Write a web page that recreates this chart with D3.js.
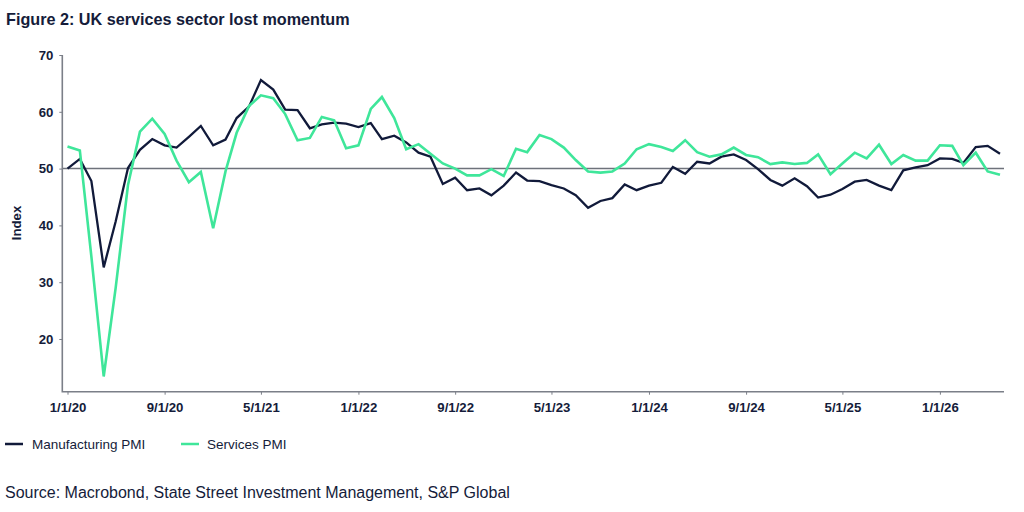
<!DOCTYPE html>
<html>
<head>
<meta charset="utf-8">
<script src="https://cdn.jsdelivr.net/npm/d3@7"></script>
<style>
  html, body { margin: 0; padding: 0; background: #ffffff; }
  svg { display: block; font-family: "Liberation Sans", Arial, sans-serif; }
</style>
</head>
<body>
<svg id="chart" width="1024" height="512"></svg>
<script>
// ---- data ----
const startMonth = "2020-01";
const manufacturingPMI = [
  50.0, 51.7, 47.8, 32.6, 40.7, 50.1, 53.3, 55.2, 54.1, 53.7, 55.6, 57.5,
  54.1, 55.1, 58.9, 60.9, 65.6, 63.9, 60.4, 60.3, 57.1, 57.8, 58.1, 57.9,
  57.3, 58.0, 55.2, 55.8, 54.6, 52.8, 52.1, 47.3, 48.4, 46.2, 46.5, 45.3,
  47.0, 49.3, 47.9, 47.8, 47.1, 46.5, 45.3, 43.1, 44.3, 44.8, 47.2, 46.2,
  47.0, 47.5, 50.3, 49.1, 51.2, 50.9, 52.1, 52.5, 51.5, 49.9, 48.0, 47.0,
  48.3, 46.9, 44.9, 45.4, 46.4, 47.7, 48.0, 47.0, 46.2, 49.7, 50.2, 50.6,
  51.8, 51.7, 51.0, 53.8, 54.0, 52.6
];
const servicesPMI = [
  53.9, 53.2, 34.5, 13.4, 29.0, 47.1, 56.5, 58.8, 56.1, 51.4, 47.6, 49.4,
  39.5, 49.5, 56.3, 61.0, 62.9, 62.4, 59.6, 55.0, 55.4, 59.1, 58.5, 53.6,
  54.1, 60.5, 62.6, 58.9, 53.4, 54.3, 52.6, 50.9, 50.0, 48.8, 48.8, 49.9,
  48.7, 53.5, 52.9, 55.9, 55.2, 53.7, 51.5, 49.5, 49.3, 49.5, 50.9, 53.4,
  54.3, 53.8, 53.1, 55.0, 52.9, 52.1, 52.5, 53.7, 52.4, 52.0, 50.8, 51.1,
  50.8, 51.0, 52.5, 49.0, 50.9, 52.8, 51.8, 54.2, 50.8, 52.4, 51.4, 51.4,
  54.1, 54.0, 50.6, 52.8, 49.5, 48.9
];
const xTickLabels = ["1/1/20", "9/1/20", "5/1/21", "1/1/22", "9/1/22", "5/1/23", "1/1/24", "9/1/24", "5/1/25", "1/1/26"];
const yTickValues = [20, 30, 40, 50, 60, 70];
const seriesNames = ["Manufacturing PMI", "Services PMI"];
const referenceLevel = 50;
const titleText = "Figure 2: UK services sector lost momentum";
const yAxisLabel = "Index";
const sourceText = "Source: Macrobond, State Street Investment Management, S&P Global";

// ---- styling ----
const colors = ["#111a3a", "#3fe69a"];
const axisColor = "#7b7f88";
const textColor = "#151c3a";

const svg = d3.select("#chart");
const parseMonth = d3.timeParse("%Y-%m");
const parseTick = d3.timeParse("%m/%d/%y");
const start = parseMonth(startMonth);
const dates = manufacturingPMI.map((_, i) => d3.timeMonth.offset(start, i));

const x = d3.scaleTime()
  .domain([dates[0], dates[dates.length - 1]])
  .range([67.5, 1000]);
const y = d3.scaleLinear().domain([10.72, 70]).range([391.7, 55]);

const axisLeftX = 62.3, axisRightX = 1004, axisBottomY = 391.7;

// title
svg.append("text")
  .attr("x", 6).attr("y", 25)
  .attr("font-size", 16.2).attr("font-weight", "bold")
  .attr("fill", textColor)
  .text(titleText);

// reference line at 50
svg.append("line")
  .attr("x1", axisLeftX).attr("x2", axisRightX)
  .attr("y1", y(referenceLevel)).attr("y2", y(referenceLevel))
  .attr("stroke", "#6e727b").attr("stroke-width", 1.5);

// axes
const gx = svg.append("g").attr("transform", `translate(0,${axisBottomY})`)
  .call(d3.axisBottom(x)
    .tickValues(xTickLabels.map(parseTick))
    .tickFormat(d3.timeFormat("%-m/%-d/%y"))
    .tickSize(3).tickPadding(8));
gx.select(".domain").remove();
gx.selectAll(".tick line").attr("stroke", axisColor).attr("stroke-width", 1);
gx.selectAll(".tick text")
  .attr("font-family", "Liberation Sans, Arial, sans-serif")
  .attr("font-size", 13.2).attr("font-weight", "bold").attr("fill", textColor);

const gy = svg.append("g").attr("transform", `translate(${axisLeftX},0)`)
  .call(d3.axisLeft(y).tickValues(yTickValues).tickSize(3).tickPadding(6));
gy.select(".domain").remove();
gy.selectAll(".tick line").attr("stroke", axisColor).attr("stroke-width", 1);
gy.selectAll(".tick text")
  .attr("font-family", "Liberation Sans, Arial, sans-serif")
  .attr("font-size", 13.2).attr("font-weight", "bold").attr("fill", textColor);

// axis lines
svg.append("path")
  .attr("d", `M${axisLeftX},${y(70)}V${axisBottomY}H${axisRightX}`)
  .attr("fill", "none").attr("stroke", axisColor).attr("stroke-width", 1.6);

// y label
svg.append("text")
  .attr("transform", "translate(21,223) rotate(-90)")
  .attr("text-anchor", "middle")
  .attr("font-size", 13.2).attr("font-weight", "bold").attr("fill", textColor)
  .text(yAxisLabel);

// series lines
const line = d3.line().x((d, i) => x(dates[i])).y(d => y(d));
[manufacturingPMI, servicesPMI].forEach((s, k) => {
  svg.append("path")
    .datum(s)
    .attr("d", line)
    .attr("fill", "none")
    .attr("stroke", colors[k])
    .attr("stroke-width", k === 0 ? 2.3 : 2.6)
    .attr("stroke-linejoin", "miter")
    .attr("stroke-miterlimit", 4);
});

// legend
const legendItems = [{x: 5, tx: 32}, {x: 181, tx: 207}];
legendItems.forEach((p, k) => {
  svg.append("line")
    .attr("x1", p.x).attr("x2", p.x + 18)
    .attr("y1", 444).attr("y2", 444)
    .attr("stroke", colors[k]).attr("stroke-width", 2.5);
  svg.append("text")
    .attr("x", p.tx).attr("y", 448.5)
    .attr("font-size", 13.5).attr("fill", textColor)
    .text(seriesNames[k]);
});

// source
svg.append("text")
  .attr("x", 5).attr("y", 497.5)
  .attr("font-size", 16).attr("fill", textColor)
  .text(sourceText);
</script>
</body>
</html>
